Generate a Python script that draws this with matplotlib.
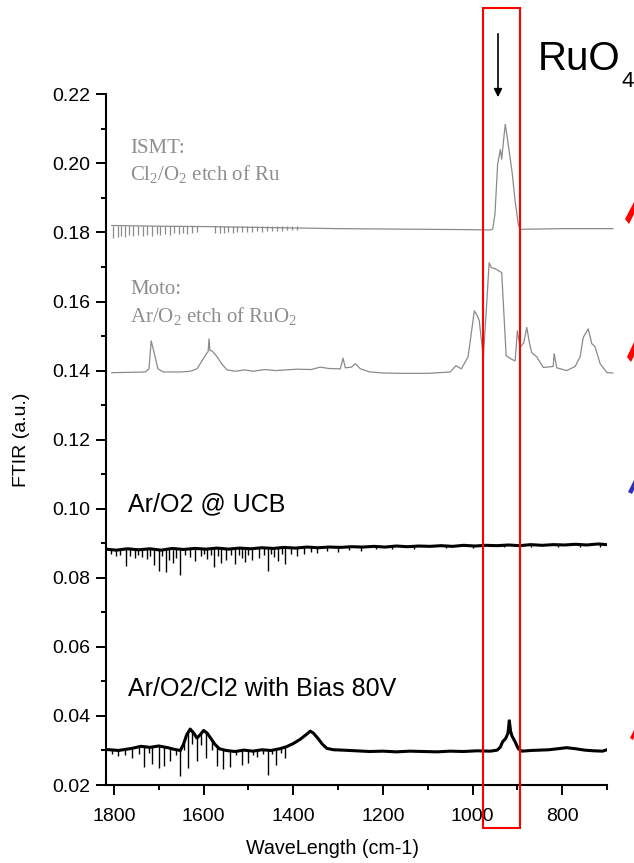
import numpy as np
import matplotlib
matplotlib.use('Agg')
import matplotlib.pyplot as plt
from matplotlib.patches import Rectangle, Polygon
from matplotlib.ticker import MultipleLocator

plt.rcParams['font.family'] = 'Liberation Sans'
plt.rcParams['mathtext.fontset'] = 'custom'
plt.rcParams['mathtext.rm'] = 'Liberation Serif'
plt.rcParams['mathtext.it'] = 'Liberation Serif:italic'

# --- ISMT : Cl2/O2 etch of Ru (gris)
ismt_wn = [1805, 1700, 1600, 1500, 1400, 1300, 1200, 1100, 1000, 960, 955, 950, 944, 938,
           935, 931, 927, 922, 912, 905, 898, 894, 850, 800, 687]
ismt_val = [0.1820, 0.1818, 0.1817, 0.1815, 0.1813, 0.1811, 0.1810, 0.1809, 0.1808, 0.1807,
            0.1810, 0.1853, 0.1998, 0.2040, 0.2012, 0.2064, 0.2113, 0.2070, 0.1977, 0.1891,
            0.1824, 0.1809, 0.1810, 0.1811, 0.1811]
ismt_dip_wn = [1802, 1790, 1785, 1775, 1766, 1757, 1746, 1735, 1727, 1716, 1705, 1697, 1686,
               1675, 1666, 1656, 1647, 1638, 1627, 1615, 1575, 1563, 1554, 1545, 1535, 1526,
               1515, 1504, 1493, 1481, 1470, 1459, 1448, 1437, 1426, 1415, 1403, 1392]
ismt_dip_val = [0.1784, 0.1786, 0.1790, 0.1787, 0.1792, 0.1789, 0.1793, 0.1790, 0.1794, 0.1791,
                0.1795, 0.1792, 0.1796, 0.1794, 0.1797, 0.1795, 0.1798, 0.1796, 0.1799, 0.1800,
                0.1797, 0.1799, 0.1798, 0.1800, 0.1799, 0.1801, 0.1800, 0.1802, 0.1801, 0.1803,
                0.1802, 0.1804, 0.1803, 0.1805, 0.1804, 0.1806, 0.1806, 0.1807]

# --- Moto : Ar/O2 etch of RuO2 (gris)
moto_wn = [1805, 1760, 1730, 1722, 1717, 1712, 1702, 1690, 1650, 1630, 1615, 1605, 1596, 1590,
           1588, 1586, 1581, 1570, 1560, 1548, 1530, 1508, 1490, 1463, 1440, 1392, 1360, 1340,
           1320, 1295, 1289, 1284, 1270, 1262, 1250, 1229, 1200, 1162, 1100, 1050, 1037, 1025,
           1010, 996, 990, 985, 976, 970, 963, 958, 950, 935, 925, 912, 905, 900, 894, 886,
           879, 873, 868, 857, 842, 820, 818, 812, 790, 771, 760, 753, 742, 738, 734, 727,
           715, 700, 687]
moto_val = [0.1394, 0.1395, 0.1396, 0.1405, 0.1486, 0.1460, 0.1405, 0.1396, 0.1396, 0.1398,
            0.1405, 0.1425, 0.1445, 0.1455, 0.1492, 0.1458, 0.1457, 0.1440, 0.1420, 0.1402,
            0.1398, 0.1402, 0.1398, 0.1403, 0.1400, 0.1404, 0.1403, 0.1410, 0.1406, 0.1405,
            0.1436, 0.1408, 0.1410, 0.1420, 0.1405, 0.1396, 0.1393, 0.1392, 0.1392, 0.1396,
            0.1414, 0.1405, 0.1440, 0.1573, 0.1560, 0.1545, 0.1438, 0.1560, 0.1712, 0.1698,
            0.1695, 0.1684, 0.1443, 0.1432, 0.1428, 0.1515, 0.1467, 0.1480, 0.1525, 0.1480,
            0.1452, 0.1440, 0.1409, 0.1412, 0.1449, 0.1408, 0.1400, 0.1412, 0.1440, 0.1496,
            0.1521, 0.1500, 0.1478, 0.1470, 0.1419, 0.1394, 0.1393]

# --- Ar/O2 @ UCB (noir)
ucb_wn = [1819, 1795, 1770, 1745, 1720, 1695, 1670, 1645, 1620, 1595, 1570, 1545, 1520, 1495,
          1470, 1445, 1420, 1395, 1370, 1345, 1320, 1295, 1270, 1245, 1220, 1195, 1170, 1145,
          1120, 1095, 1070, 1045, 1020, 995, 970, 945, 920, 895, 870, 845, 820, 795, 770,
          745, 720, 700]
ucb_val = [0.0883, 0.0880, 0.0884, 0.0881, 0.0884, 0.0880, 0.0885, 0.0882, 0.0885, 0.0883,
           0.0886, 0.0883, 0.0886, 0.0884, 0.0887, 0.0885, 0.0888, 0.0886, 0.0889, 0.0887,
           0.0889, 0.0888, 0.0890, 0.0889, 0.0891, 0.0889, 0.0892, 0.0890, 0.0892, 0.0891,
           0.0893, 0.0891, 0.0894, 0.0892, 0.0894, 0.0893, 0.0895, 0.0893, 0.0896, 0.0894,
           0.0896, 0.0895, 0.0897, 0.0895, 0.0898, 0.0896]
ucb_spike_wn = [1806, 1796, 1786, 1773, 1764, 1754, 1746, 1738, 1727, 1719, 1711, 1700, 1692,
                1684, 1677, 1669, 1661, 1653, 1641, 1630, 1619, 1607, 1600, 1592, 1584, 1577,
                1569, 1561, 1550, 1540, 1530, 1522, 1515, 1508, 1500, 1492, 1476, 1465, 1457,
                1449, 1442, 1434, 1426, 1419, 1405, 1392, 1376, 1360, 1346, 1325, 1300, 1275,
                1250, 1215, 1180, 1130, 1060, 1000, 930, 870, 810, 760, 715]
ucb_spike_val = [0.0868, 0.0862, 0.0866, 0.0833, 0.0864, 0.0858, 0.0866, 0.0860, 0.0855,
                 0.0864, 0.0838, 0.0820, 0.0862, 0.0816, 0.0852, 0.0843, 0.0856, 0.0808,
                 0.0866, 0.0860, 0.0848, 0.0862, 0.0868, 0.0855, 0.0866, 0.0830, 0.0864,
                 0.0843, 0.0852, 0.0866, 0.0840, 0.0866, 0.0856, 0.0846, 0.0866, 0.0852,
                 0.0858, 0.0866, 0.0820, 0.0868, 0.0860, 0.0848, 0.0868, 0.0840, 0.0870,
                 0.0863, 0.0868, 0.0874, 0.0872, 0.0877, 0.0876, 0.0880, 0.0879, 0.0882,
                 0.0882, 0.0884, 0.0885, 0.0886, 0.0888, 0.0888, 0.0890, 0.0889, 0.0890]

# --- Ar/O2/Cl2 with Bias 80V (noir)
bias_wn = [1819, 1790, 1760, 1740, 1720, 1700, 1680, 1665, 1652, 1645, 1638, 1630, 1622, 1615,
           1608, 1600, 1592, 1584, 1575, 1565, 1550, 1530, 1510, 1490, 1470, 1450, 1430, 1415,
           1400, 1385, 1372, 1362, 1355, 1345, 1335, 1325, 1310, 1290, 1260, 1230, 1200, 1170,
           1140, 1110, 1080, 1050, 1020, 990, 960, 945, 938, 933, 926, 921, 918, 915, 912,
           905, 898, 890, 870, 850, 830, 810, 790, 770, 750, 730, 710, 700]
bias_val = [0.0303, 0.0300, 0.0306, 0.0312, 0.0309, 0.0313, 0.0308, 0.0303, 0.0300, 0.0318,
            0.0345, 0.0362, 0.0350, 0.0336, 0.0345, 0.0358, 0.0350, 0.0335, 0.0318, 0.0305,
            0.0300, 0.0297, 0.0301, 0.0298, 0.0302, 0.0300, 0.0305, 0.0311, 0.0320, 0.0332,
            0.0345, 0.0356, 0.0350, 0.0335, 0.0318, 0.0306, 0.0302, 0.0301, 0.0299, 0.0297,
            0.0298, 0.0296, 0.0298, 0.0297, 0.0296, 0.0298, 0.0297, 0.0299, 0.0298, 0.0301,
            0.0310, 0.0325, 0.0335, 0.0350, 0.0386, 0.0355, 0.0342, 0.0325, 0.0305, 0.0298,
            0.0300, 0.0301, 0.0302, 0.0305, 0.0308, 0.0305, 0.0301, 0.0299, 0.0298, 0.0302]
bias_spike_wn = [1805, 1790, 1775, 1760, 1745, 1734, 1722, 1715, 1700, 1689, 1675, 1662, 1652,
                 1644, 1635, 1625, 1615, 1605, 1595, 1582, 1570, 1557, 1542, 1528, 1515, 1500,
                 1490, 1480, 1468, 1457, 1448, 1438, 1428, 1419]
bias_spike_val = [0.0290, 0.0284, 0.0288, 0.0279, 0.0290, 0.0252, 0.0292, 0.0261, 0.0250,
                  0.0255, 0.0269, 0.0288, 0.0226, 0.0300, 0.0250, 0.0318, 0.0269, 0.0315,
                  0.0279, 0.0300, 0.0255, 0.0245, 0.0252, 0.0286, 0.0257, 0.0264, 0.0288,
                  0.0281, 0.0290, 0.0229, 0.0290, 0.0259, 0.0292, 0.0277]

W, H = 634, 863
GRAY_LINE = '#8a8a8a'
GRAY_TEXT = '#8e8e8e'


def px(x, y):
    # pixels de l'image (origine en haut a gauche) -> coordonnees figure
    return x / W, 1 - y / H


fig = plt.figure(figsize=(W / 100, H / 100), dpi=100)
ax = fig.add_axes([105.5 / W, 1 - 785 / H, (607 - 105.5) / W, (785 - 94.3) / H])

# traces grises (collees depuis un autre graphique, depassent un peu a droite)
ax.plot(ismt_wn, ismt_val, color=GRAY_LINE, lw=0.9, clip_on=False)
ax.vlines(ismt_dip_wn, ismt_dip_val, 0.1819, color=GRAY_LINE, lw=0.9)
ax.plot(moto_wn, moto_val, color=GRAY_LINE, lw=0.9, clip_on=False)

# traces noires
ax.plot(ucb_wn, ucb_val, color='black', lw=2.2)
ucb_top = np.interp(ucb_spike_wn, ucb_wn[::-1], ucb_val[::-1])
ax.vlines(ucb_spike_wn, ucb_spike_val, ucb_top, color='black', lw=1.0)
ax.plot(bias_wn, bias_val, color='black', lw=2.2)
bias_top = np.interp(bias_spike_wn, bias_wn[::-1], bias_val[::-1])
ax.vlines(bias_spike_wn, bias_spike_val, bias_top, color='black', lw=1.0)

ax.set_xlim(1819, 700)
ax.set_ylim(0.02, 0.22)
ax.xaxis.set_major_locator(MultipleLocator(200))
ax.xaxis.set_minor_locator(MultipleLocator(100))
ax.yaxis.set_major_locator(MultipleLocator(0.02))
ax.yaxis.set_minor_locator(MultipleLocator(0.01))
ax.yaxis.set_major_formatter(plt.FormatStrFormatter('%.2f'))
ax.spines['top'].set_visible(False)
ax.spines['right'].set_visible(False)
ax.spines['left'].set_linewidth(1.5)
ax.spines['bottom'].set_linewidth(1.5)
ax.tick_params(which='major', direction='out', length=7.2, width=1.4, labelsize=14)
ax.tick_params(which='minor', direction='out', length=3.6, width=1.4)
ax.tick_params(axis='x', which='major', pad=9)
ax.tick_params(axis='y', which='major', pad=4)
ax.set_xlabel('WaveLength (cm-1)', fontsize=14.2)
ax.set_ylabel('FTIR (a.u.)', fontsize=14)
ax.xaxis.set_label_coords((332 - 105.5) / 501.5, (785 - 839) / 690.7)
ax.yaxis.set_label_coords((30 - 105.5) / 501.5, 0.5)

# etiquettes des spectres
fig.text(*px(130, 153), 'ISMT:', family='Liberation Serif', fontsize=15, color=GRAY_TEXT, va='baseline')
fig.text(*px(130, 180), 'Cl$_2$/O$_2$ etch of Ru', family='Liberation Serif', fontsize=15,
         color=GRAY_TEXT, va='baseline')
fig.text(*px(130, 294), 'Moto:', family='Liberation Serif', fontsize=15, color=GRAY_TEXT, va='baseline')
fig.text(*px(130, 322), 'Ar/O$_2$ etch of RuO$_2$', family='Liberation Serif', fontsize=15,
         color=GRAY_TEXT, va='baseline')
fig.text(*px(128, 511), 'Ar/O2 @ UCB', fontsize=18, va='baseline')
fig.text(*px(128, 696), 'Ar/O2/Cl2 with Bias 80V', fontsize=18, va='baseline')

# cadre rouge autour du pic RuO4 + fleche
fig.patches.append(Rectangle(px(483, 828), (520 - 483) / W, (828 - 8) / H, transform=fig.transFigure,
                             fill=False, ec='red', lw=1.5))
fig.text(*px(538, 70), 'RuO', fontsize=29, va='baseline')
fig.text(*px(621, 87), '4', fontsize=16, va='baseline')
ax.annotate('', xy=px(498, 100), xytext=px(498, 31), xycoords='figure fraction',
            textcoords='figure fraction',
            arrowprops=dict(arrowstyle='-|>', color='black', lw=1.2, mutation_scale=12))

# bouts de fleches coupes sur le bord droit
for pts, col in [([(625, 219), (634, 202), (634, 214), (629, 224)], 'red'),
                 ([(627, 357), (634, 342), (634, 356), (631, 362)], 'red'),
                 ([(628, 492), (634, 480), (634, 490), (632, 494)], '#3030c0'),
                 ([(630, 738), (634, 730), (634, 737), (633, 740)], 'red')]:
    fig.patches.append(Polygon([px(x, y) for x, y in pts], closed=True, transform=fig.transFigure,
                               fc=col, ec='none'))

fig.savefig('out.png', dpi=100)
